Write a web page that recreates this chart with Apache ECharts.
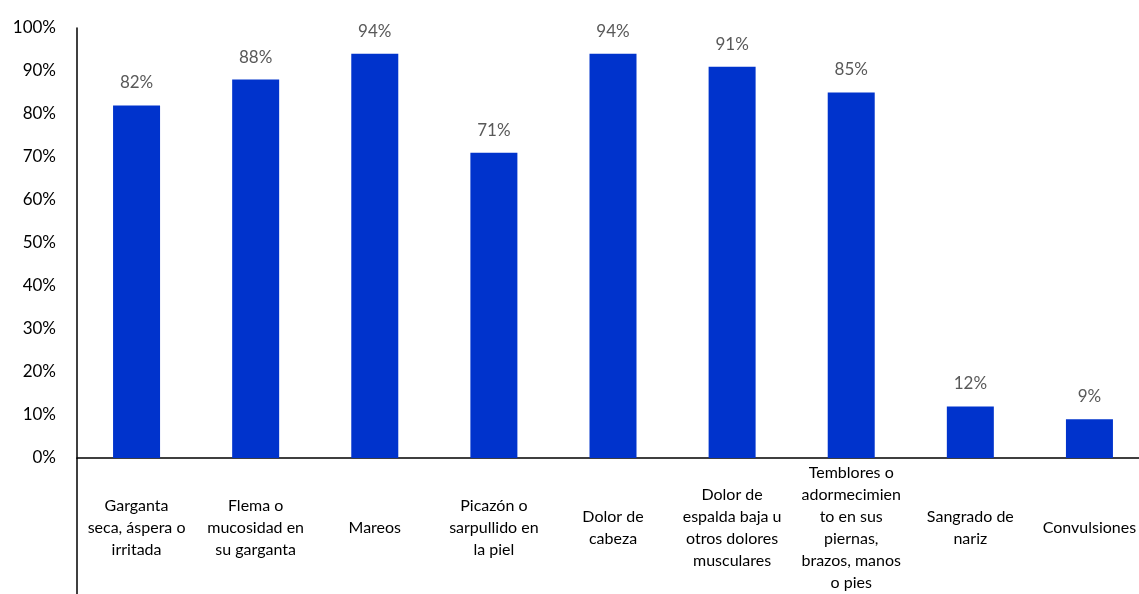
<!DOCTYPE html>
<html>
<head>
<meta charset="utf-8">
<script src="https://cdn.jsdelivr.net/npm/echarts@6/dist/echarts.min.js"></script>
<style>
  html, body { margin: 0; padding: 0; background: #fff; }
  #chart { width: 1139px; height: 594px; }
</style>
</head>
<body>
<div id="chart"></div>
<script>
// categories (line breaks as in the original)
const categories = [
  'Garganta\nseca, áspera o\nirritada',
  'Flema o\nmucosidad en\nsu garganta',
  'Mareos',
  'Picazón o\nsarpullido en\nla piel',
  'Dolor de\ncabeza',
  'Dolor de\nespalda baja u\notros dolores\nmusculares',
  'Temblores o\nadormecimien\nto en sus\npiernas,\nbrazos, manos\no pies',
  'Sangrado de\nnariz',
  'Convulsiones'
];
const values = [82, 88, 94, 71, 94, 91, 85, 12, 9];
const yTicks = [0, 10, 20, 30, 40, 50, 60, 70, 80, 90, 100];

const fontFamily = 'Lato, "Open Sans", sans-serif';

const chart = echarts.init(document.getElementById('chart'));

const option = {
  animation: false,
  grid: {
    left: 77,
    right: -10,
    top: 28,
    bottom: 136,
    containLabel: false,
    outerBoundsMode: 'none'
  },
  xAxis: {
    type: 'category',
    data: categories,
    axisTick: { show: false },
    axisLine: { lineStyle: { color: '#000', width: 1.5 } },
    axisLabel: {
      interval: 0,
      color: '#000',
      fontFamily: fontFamily,
      fontSize: 16,
      lineHeight: 22,
      verticalAlign: 'middle',
      margin: 70
    }
  },
  yAxis: {
    type: 'value',
    min: yTicks[0],
    max: yTicks[yTicks.length - 1],
    interval: 10,
    splitLine: { show: false },
    axisTick: { show: false },
    axisLine: { show: true, lineStyle: { color: '#000', width: 1.5 } },
    axisLabel: {
      color: '#000',
      fontFamily: fontFamily,
      fontSize: 17,
      margin: 21,
      formatter: function (v) { return v + '%'; }
    }
  },
  // y axis line carries on below the category axis
  graphic: [{
    type: 'line',
    shape: { x1: 77, y1: 458, x2: 77, y2: 594 },
    style: { stroke: '#000', lineWidth: 1.5 }
  }],
  series: [{
    type: 'bar',
    data: values,
    barWidth: 47,
    itemStyle: { color: '#0033CC' },
    label: {
      show: true,
      position: 'top',
      distance: 14,
      color: '#595959',
      fontFamily: fontFamily,
      fontSize: 17,
      formatter: '{c}%'
    }
  }]
};

chart.setOption(option);
</script>
</body>
</html>
